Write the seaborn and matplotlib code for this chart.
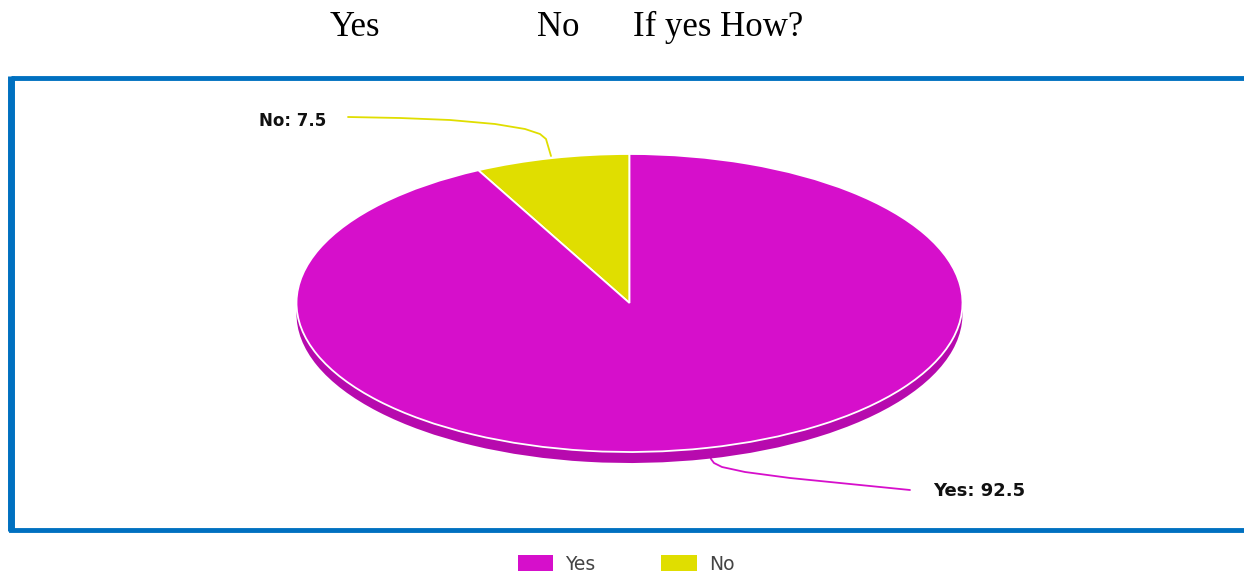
import matplotlib
matplotlib.use("Agg")
import matplotlib.pyplot as plt
from matplotlib.patches import Rectangle, Patch
import seaborn as sns

# data
labels = ["Yes", "No"]
values = [92.5, 7.5]
top_colors = ["#D60FCB", "#E0DE00"]
side_colors = ["#B70AAE", "#BDBB00"]
heading_words = ["Yes", "No", "If yes How?"]

sns.set_theme(style="white")
plt.rcParams["font.family"] = ["DejaVu Sans"]

W, H = 1244, 575
fig = plt.figure(figsize=(W / 100, H / 100), dpi=100)
bg = fig.add_axes([0, 0, 1, 1])
bg.set_xlim(0, W)
bg.set_ylim(H, 0)
bg.axis("off")

# blue frame round the chart
bg.add_patch(Rectangle((10.5, 77.5), 1260, 452, fill=False,
                       edgecolor="#0070C0", linewidth=3.5, zorder=1))
bg.plot([10.5, 10.5], [76, 531], color="#0070C0", linewidth=5,
        solid_capstyle="butt", zorder=1)

# heading line above the frame (serif)
for word, x in zip(heading_words, [330, 537, 633]):
    bg.text(x, 27, word, family="Liberation Serif", fontsize=25,
            ha="left", va="center", color="black")

# ellipse box of the pie in pixels
cx, cy, rx, ry, depth = 629.5, 303, 333, 149, 11


def pie_axes(dy):
    a = fig.add_axes([(cx - rx) / W, 1 - (cy + ry + dy) / H, 2 * rx / W, 2 * ry / H])
    a.set_facecolor("none")
    return a


# order with "No" first so it sits just left of 12 o'clock
order = [1, 0]
side = pie_axes(depth)
side.pie([values[i] for i in order], colors=[side_colors[i] for i in order],
         startangle=90, counterclock=True, radius=1,
         wedgeprops=dict(linewidth=0))
top = pie_axes(0)
top.pie([values[i] for i in order], colors=[top_colors[i] for i in order],
        startangle=90, counterclock=True, radius=1,
        wedgeprops=dict(edgecolor="white", linewidth=1.3))
for a in (side, top):
    a.set_aspect("auto")
    a.set_xlim(-1, 1)
    a.set_ylim(-1, 1)
    a.axis("off")

# leader lines and value labels
bg.plot([348, 400, 450, 495, 525, 540, 546, 551],
        [117, 118, 120, 124, 129, 134, 139, 156],
        color=top_colors[1], linewidth=1.3, zorder=3)
bg.text(326, 121, f"{labels[1]}: {values[1]}", ha="right", va="center",
        fontsize=12, fontweight="bold", color="#111111")
bg.plot([709, 711, 714, 722, 745, 790, 850, 910],
        [451, 459, 463, 467, 472, 478, 484, 490],
        color=top_colors[0], linewidth=1.3, zorder=3)
bg.text(933, 491, f"{labels[0]}: {values[0]}", ha="left", va="center",
        fontsize=13, fontweight="bold", color="#111111")

# legend under the frame
handles = [Patch(facecolor=top_colors[i], edgecolor="none") for i in range(2)]
fig.legend(handles, labels, loc="center", bbox_to_anchor=(626 / W, 1 - 564 / H),
           ncol=2, frameon=False, handlelength=1.9, handleheight=0.9,
           columnspacing=3.5, handletextpad=0.65,
           prop={"size": 13.5}, labelcolor="#444444")

fig.savefig("out.png", dpi=100)
